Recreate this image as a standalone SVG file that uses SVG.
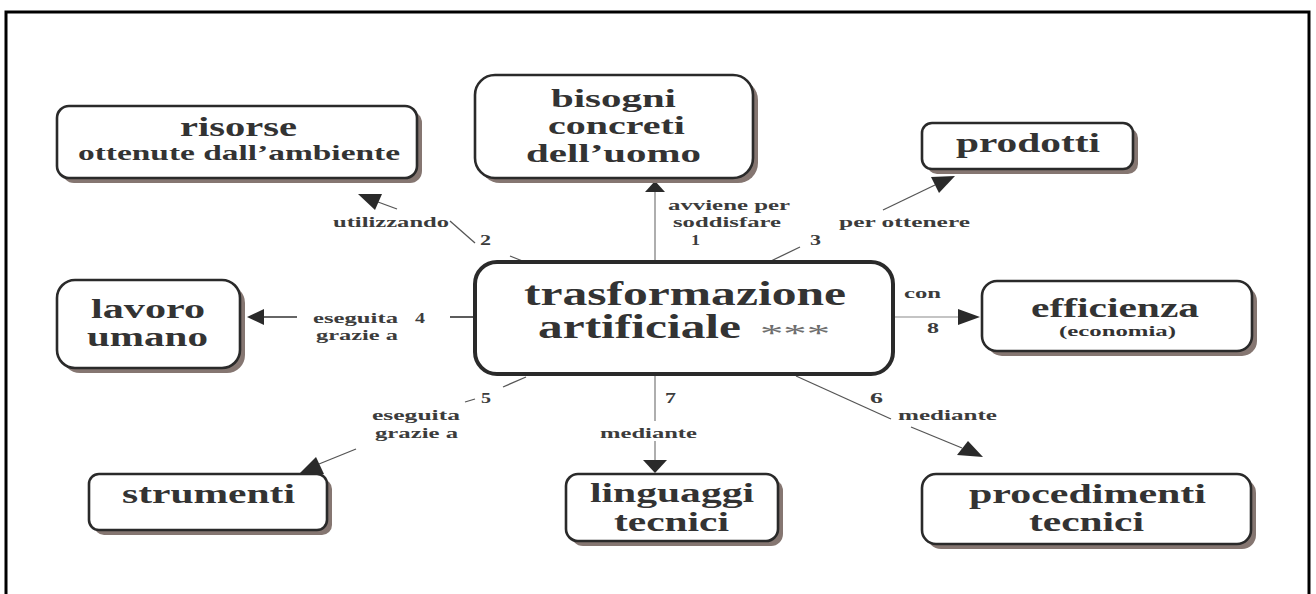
<svg xmlns="http://www.w3.org/2000/svg" width="1316" height="594" viewBox="0 0 1316 594">
<style>
.frame{fill:none;stroke:#000;stroke-width:3}
.box{fill:#fff;stroke:#2a2a2a;stroke-width:2.6}
.main{fill:#fff;stroke:#2a2a2a;stroke-width:4}
.sh{fill:#857671}
text{font-family:"Liberation Serif","Times New Roman",serif;font-weight:bold;fill:#333}
.lb{font-size:15px;fill:#3c3c3c}
.ast{font-weight:normal;fill:#6e6e6e}
.ln{stroke:#555;stroke-width:1.3;fill:none}
.lg{stroke:#9a9a9a;stroke-width:1.6;fill:none}
.lw{stroke:#c4c4c4;stroke-width:2.2;fill:none}
.ld{stroke:#333;stroke-width:1.6;fill:none}
.ah{fill:#2a2a2a}
</style>
<rect class="frame" x="6" y="12" width="1303" height="600"/>

<g id="connectors">
  <!-- 1 -->
  <line class="lg" x1="655" y1="262" x2="655" y2="192"/>
  <polygon class="ah" points="655,181 645,192 665,192"/>
  <!-- 2 -->
  <line class="ln" x1="525" y1="262" x2="510" y2="256"/>
  <line class="ln" x1="475" y1="243" x2="450" y2="221"/>
  <line class="ln" x1="397" y1="209" x2="378" y2="202"/>
  <polygon class="ah" points="358,194 382,194 375,210"/>
  <!-- 3 -->
  <line class="ln" x1="771" y1="261" x2="800" y2="247"/>
  <line class="ln" x1="883" y1="210" x2="935" y2="185"/>
  <polygon class="ah" points="955,176 939,193 931,177"/>
  <!-- 4 -->
  <line class="ld" x1="475" y1="317" x2="450" y2="317"/>
  <line class="ld" x1="297" y1="317" x2="263" y2="317"/>
  <polygon class="ah" points="247,317 264,309 264,325"/>
  <!-- 5 -->
  <line class="ln" x1="526" y1="377" x2="503" y2="387"/>
  <line class="ln" x1="475" y1="399" x2="465" y2="402"/>
  <line class="ln" x1="356" y1="449" x2="319" y2="464"/>
  <polygon class="ah" points="299,474 316,457 324,474"/>
  <!-- 6 -->
  <line class="ln" x1="796" y1="376" x2="891" y2="419"/>
  <line class="ln" x1="911" y1="427" x2="962" y2="448"/>
  <polygon class="ah" points="983,457 957,455 968,441"/>
  <!-- 7 -->
  <line class="lg" x1="655" y1="374" x2="655" y2="421"/>
  <line class="lg" x1="655" y1="441" x2="655" y2="460"/>
  <polygon class="ah" points="655,473 643,460 667,460"/>
  <!-- 8 -->
  <line class="lw" x1="893" y1="317" x2="958" y2="317"/>
  <polygon class="ah" points="980,317 958,309 958,325"/>

  <text class="lb" x="333" y="227" textLength="116" lengthAdjust="spacingAndGlyphs">utilizzando</text>
  <text class="lb" x="480" y="245" textLength="11" lengthAdjust="spacingAndGlyphs">2</text>
  <text class="lb" x="668" y="210" textLength="122" lengthAdjust="spacingAndGlyphs">avviene per</text>
  <text class="lb" x="673" y="227" textLength="108" lengthAdjust="spacingAndGlyphs">soddisfare</text>
  <text class="lb" x="691" y="245" textLength="9" lengthAdjust="spacingAndGlyphs">1</text>
  <text class="lb" x="839" y="227" textLength="131" lengthAdjust="spacingAndGlyphs">per ottenere</text>
  <text class="lb" x="810" y="245" textLength="11" lengthAdjust="spacingAndGlyphs">3</text>
  <text class="lb" x="313" y="323" textLength="85" lengthAdjust="spacingAndGlyphs">eseguita</text>
  <text class="lb" x="316" y="340" textLength="82" lengthAdjust="spacingAndGlyphs">grazie a</text>
  <text class="lb" x="415" y="323" textLength="10" lengthAdjust="spacingAndGlyphs">4</text>
  <text class="lb" x="904" y="298" textLength="37" lengthAdjust="spacingAndGlyphs">con</text>
  <text class="lb" x="927" y="333" textLength="12" lengthAdjust="spacingAndGlyphs">8</text>
  <text class="lb" x="481" y="403" textLength="10" lengthAdjust="spacingAndGlyphs">5</text>
  <text class="lb" x="372" y="420" textLength="88" lengthAdjust="spacingAndGlyphs">eseguita</text>
  <text class="lb" x="375" y="438" textLength="83" lengthAdjust="spacingAndGlyphs">grazie a</text>
  <text class="lb" x="665" y="403" textLength="11" lengthAdjust="spacingAndGlyphs">7</text>
  <text class="lb" x="600" y="438" textLength="97" lengthAdjust="spacingAndGlyphs">mediante</text>
  <text class="lb" x="870" y="403" textLength="13" lengthAdjust="spacingAndGlyphs">6</text>
  <text class="lb" x="898" y="420" textLength="99" lengthAdjust="spacingAndGlyphs">mediante</text>
</g>

<g id="risorse">
  <rect class="sh" x="62" y="111" width="360" height="72" rx="12"/>
  <rect class="box" x="57" y="106" width="360" height="72" rx="12"/>
  <text x="180" y="136" font-size="28" textLength="117" lengthAdjust="spacingAndGlyphs">risorse</text>
  <text x="78" y="160" font-size="22" textLength="322" lengthAdjust="spacingAndGlyphs">ottenute dall’ambiente</text>
</g>

<g id="bisogni">
  <rect class="sh" x="480" y="80" width="278" height="103" rx="20"/>
  <rect class="box" x="475" y="75" width="278" height="103" rx="20"/>
  <text x="551" y="107" font-size="26" textLength="125" lengthAdjust="spacingAndGlyphs">bisogni</text>
  <text x="548" y="134" font-size="26" textLength="137" lengthAdjust="spacingAndGlyphs">concreti</text>
  <text x="526" y="162" font-size="26" textLength="175" lengthAdjust="spacingAndGlyphs">dell’uomo</text>
</g>

<g id="prodotti">
  <rect class="sh" x="927" y="128" width="211" height="46" rx="10"/>
  <rect class="box" x="922" y="123" width="211" height="46" rx="10"/>
  <text x="956" y="152" font-size="28" textLength="144" lengthAdjust="spacingAndGlyphs">prodotti</text>
</g>

<g id="trasformazione">
  <rect class="main" x="475" y="262" width="418" height="112" rx="22"/>
  <text x="524" y="305" font-size="33" textLength="322" lengthAdjust="spacingAndGlyphs">trasformazione</text>
  <text x="538" y="338" font-size="33" textLength="203" lengthAdjust="spacingAndGlyphs">artificiale</text>
  <text class="ast" x="760" y="342" font-size="26" textLength="70" lengthAdjust="spacingAndGlyphs">***</text>
</g>

<g id="lavoro">
  <rect class="sh" x="62" y="285" width="183" height="88" rx="18"/>
  <rect class="box" x="57" y="280" width="183" height="88" rx="18"/>
  <text x="91" y="318" font-size="28" textLength="114" lengthAdjust="spacingAndGlyphs">lavoro</text>
  <text x="87" y="346" font-size="28" textLength="121" lengthAdjust="spacingAndGlyphs">umano</text>
</g>

<g id="efficienza">
  <rect class="sh" x="987" y="286" width="270" height="70" rx="15"/>
  <rect class="box" x="982" y="281" width="270" height="70" rx="15"/>
  <text x="1031" y="317" font-size="27" textLength="168" lengthAdjust="spacingAndGlyphs">efficienza</text>
  <text x="1059" y="336" font-size="14" textLength="117" lengthAdjust="spacingAndGlyphs">(economia)</text>
</g>

<g id="strumenti">
  <rect class="sh" x="94" y="479" width="238" height="56" rx="10"/>
  <rect class="box" x="89" y="474" width="238" height="56" rx="10"/>
  <text x="122" y="503" font-size="28" textLength="173" lengthAdjust="spacingAndGlyphs">strumenti</text>
</g>

<g id="linguaggi">
  <rect class="sh" x="571" y="479" width="212" height="67" rx="12"/>
  <rect class="box" x="566" y="474" width="212" height="67" rx="12"/>
  <text x="590" y="502" font-size="28" textLength="164" lengthAdjust="spacingAndGlyphs">linguaggi</text>
  <text x="614" y="531" font-size="28" textLength="115" lengthAdjust="spacingAndGlyphs">tecnici</text>
</g>

<g id="procedimenti">
  <rect class="sh" x="927" y="479" width="329" height="70" rx="14"/>
  <rect class="box" x="922" y="474" width="329" height="70" rx="14"/>
  <text x="969" y="503" font-size="28" textLength="237" lengthAdjust="spacingAndGlyphs">procedimenti</text>
  <text x="1029" y="531" font-size="28" textLength="115" lengthAdjust="spacingAndGlyphs">tecnici</text>
</g>
</svg>
